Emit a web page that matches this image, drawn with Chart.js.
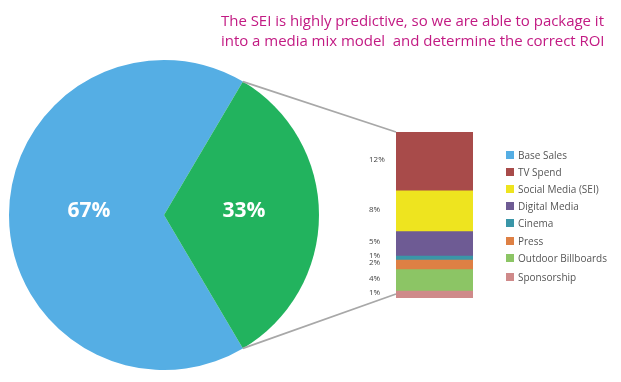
<!DOCTYPE html>
<html>
<head>
<meta charset="utf-8">
<script src="https://cdn.jsdelivr.net/npm/chart.js@4"></script>
<style>
  html, body { margin: 0; padding: 0; background: #fff; }
  #wrap { position: relative; width: 621px; height: 382px; overflow: hidden; }
  canvas { position: absolute; left: 0; top: 0; }
  #title { position: absolute; left: 221px; top: 10px; font-family: "Open Sans", sans-serif;
           font-size: 15px; line-height: 20px; color: #C21A83; white-space: pre; letter-spacing: -0.03px; }
  #legend { position: absolute; left: 506px; top: 146px; font-family: "Open Sans", sans-serif;
            font-size: 10px; color: #555; }
  .item { height: 17.2px; display: flex; align-items: center; }
  .item.last { margin-top: 2.4px; }
  .sw { width: 8px; height: 8px; margin-right: 4px; flex: none; }
</style>
</head>
<body>
<div id="wrap">
  <canvas id="pie" width="621" height="382"></canvas>
  <canvas id="bar" width="621" height="382"></canvas>
  <div id="title">The SEI is highly predictive, so we are able to package it
into a media mix model  and determine the correct ROI</div>
  <div id="legend"></div>
</div>
<script>
// ---- data ----
const pieCategories = ['Base Sales', 'Media'];
const pieShares = [67, 33];
const pieLabels = ['67%', '33%'];
const pieColors = ['#55AEE4', '#22B35E'];

const mediaCategories = ['TV Spend', 'Social Media (SEI)', 'Digital Media', 'Cinema', 'Press', 'Outdoor Billboards', 'Sponsorship'];
const mediaShares = [11.7, 8.1, 4.85, 0.8, 1.9, 4.25, 1.4];
const mediaLabels = ['12%', '8%', '5%', '1%', '2%', '4%', '1%'];
const mediaColors = ['#A84B4A', '#EEE41F', '#6E5B94', '#3A96A8', '#DE8044', '#8CC565', '#CF8A8A'];

const legendCategories = ['Base Sales'].concat(mediaCategories);
const legendColors = [pieColors[0]].concat(mediaColors);

// ---- legend ----
const lg = document.getElementById('legend');
legendCategories.forEach((c, i) => {
  const d = document.createElement('div');
  d.className = 'item' + (i === legendCategories.length - 1 ? ' last' : '');
  d.innerHTML = '<span class="sw" style="background:' + legendColors[i] + '"></span><span>' + c + '</span>';
  lg.appendChild(d);
});

// ---- pie ----
const pieLabelPlugin = {
  id: 'pieLabels',
  afterDatasetsDraw(chart) {
    const ctx = chart.ctx;
    const meta = chart.getDatasetMeta(0);
    ctx.save();
    ctx.fillStyle = '#fff';
    ctx.font = 'bold 21px "Open Sans", sans-serif';
    ctx.textAlign = 'center';
    ctx.textBaseline = 'middle';
    meta.data.forEach((arc, i) => {
      const mid = (arc.startAngle + arc.endAngle) / 2;
      const rr = arc.outerRadius * 0.5;
      ctx.fillText(pieLabels[i], arc.x + rr * Math.cos(mid) + 2.5, arc.y + rr * Math.sin(mid) - 4);
    });
    ctx.restore();
  }
};

const pieChart = new Chart(document.getElementById('pie'), {
  type: 'pie',
  data: {
    labels: pieCategories,
    datasets: [{ data: pieShares, backgroundColor: pieColors, borderWidth: 0 }]
  },
  options: {
    responsive: false,
    animation: false,
    rotation: 149.4,
    layout: { padding: { left: 9, right: 302, top: 60, bottom: 12 } },
    plugins: { legend: { display: false }, tooltip: { enabled: false }, title: { display: false } }
  },
  plugins: [pieLabelPlugin]
});

// ---- stacked bar ----
const total = mediaShares.reduce((a, b) => a + b, 0);
const order = mediaCategories.map((_, i) => i).reverse();

const barPlugin = {
  id: 'barExtras',
  afterDatasetsDraw(chart) {
    const ctx = chart.ctx;
    const area = chart.chartArea;
    ctx.save();
    // segment labels
    ctx.fillStyle = '#444';
    ctx.font = '8px "Open Sans", sans-serif';
    ctx.textAlign = 'left';
    ctx.textBaseline = 'middle';
    chart.data.datasets.forEach((ds, di) => {
      const el = chart.getDatasetMeta(di).data[0];
      const cy = (el.y + el.base) / 2;
      ctx.fillText(ds.pctLabel, area.left - 27, cy - 2);
    });
    // connectors from the pie's media slice
    const arc = pieChart.getDatasetMeta(0).data[1];
    const topEl = chart.getDatasetMeta(chart.data.datasets.length - 1).data[0];
    const botEl = chart.getDatasetMeta(0).data[0];
    ctx.strokeStyle = '#A8A8A8';
    ctx.lineWidth = 1.8;
    ctx.beginPath();
    ctx.moveTo(arc.x + arc.outerRadius * Math.cos(arc.startAngle), arc.y + arc.outerRadius * Math.sin(arc.startAngle));
    ctx.lineTo(topEl.x - topEl.width / 2, topEl.y);
    ctx.moveTo(arc.x + arc.outerRadius * Math.cos(arc.endAngle), arc.y + arc.outerRadius * Math.sin(arc.endAngle));
    ctx.lineTo(botEl.x - botEl.width / 2, botEl.base - 4);
    ctx.stroke();
    ctx.restore();
  }
};

new Chart(document.getElementById('bar'), {
  type: 'bar',
  data: {
    labels: [''],
    datasets: order.map(i => ({
      label: mediaCategories[i],
      data: [mediaShares[i]],
      pctLabel: mediaLabels[i],
      backgroundColor: mediaColors[i],
      borderWidth: 0,
      barPercentage: 1,
      categoryPercentage: 1
    }))
  },
  options: {
    responsive: false,
    animation: false,
    layout: { padding: { left: 396, right: 148, top: 132, bottom: 84 } },
    scales: {
      x: { stacked: true, display: false },
      y: { stacked: true, display: false, min: 0, max: total }
    },
    plugins: { legend: { display: false }, tooltip: { enabled: false }, title: { display: false } }
  },
  plugins: [barPlugin]
});
</script>
</body>
</html>
